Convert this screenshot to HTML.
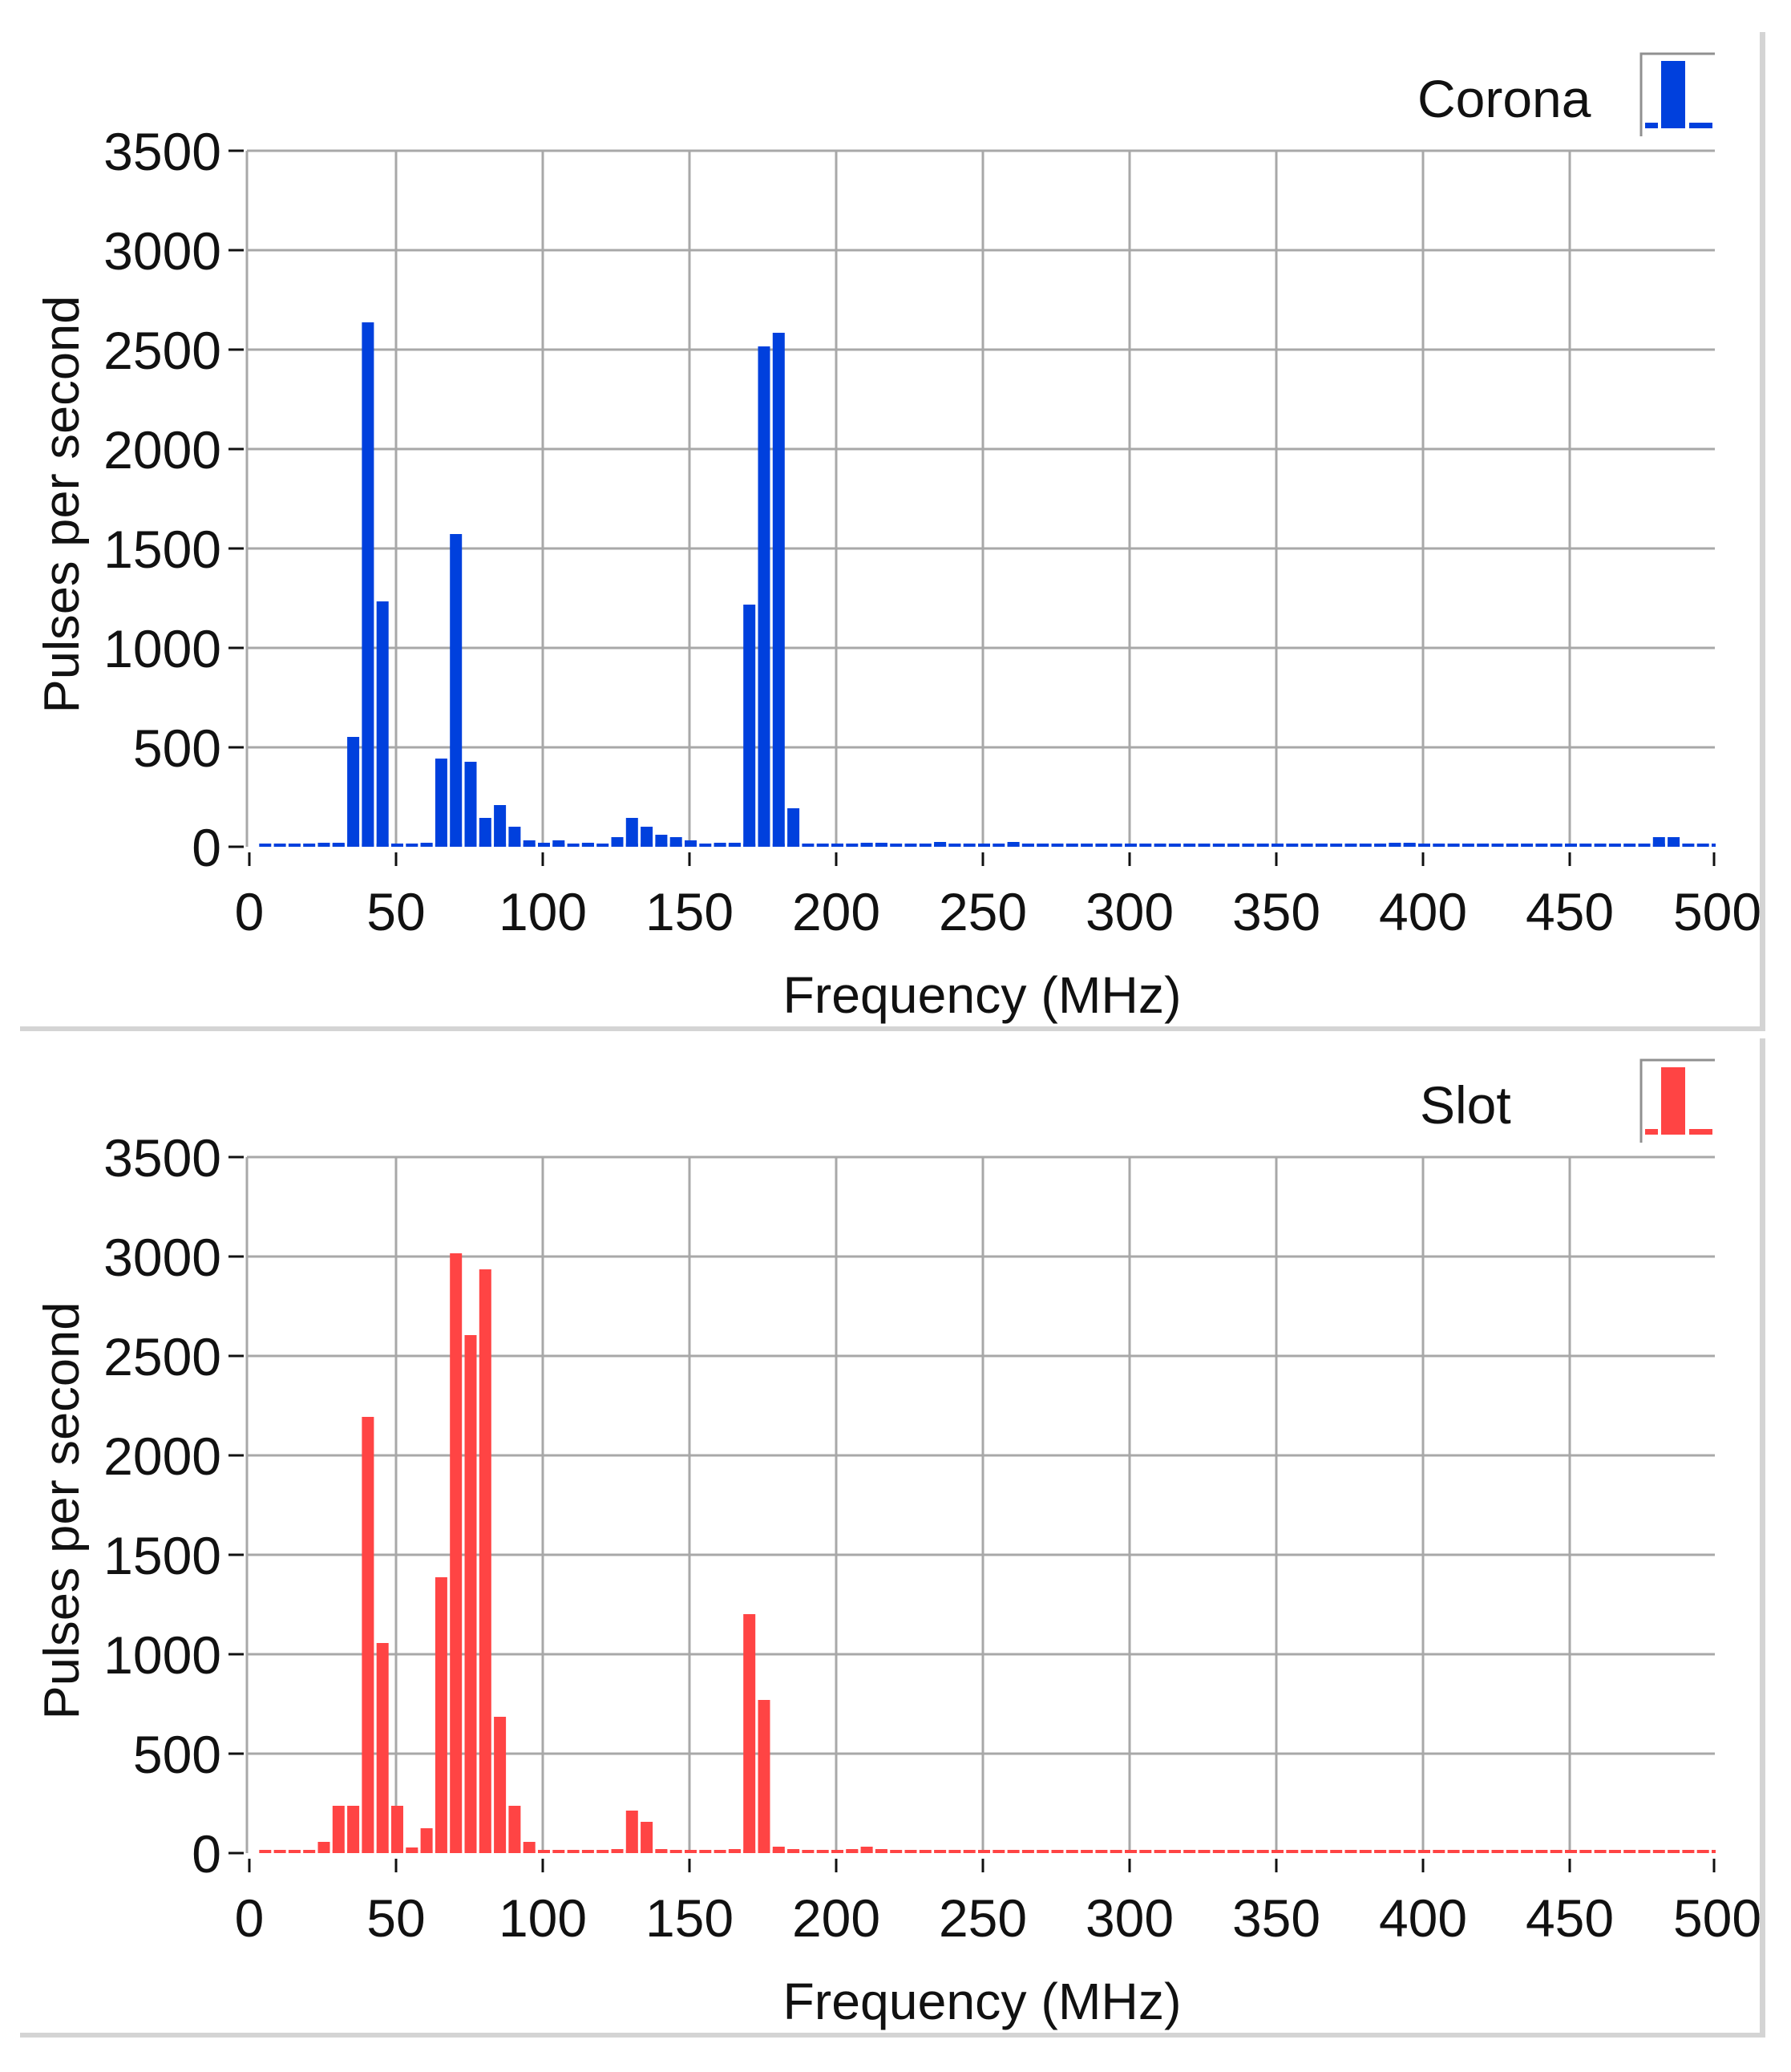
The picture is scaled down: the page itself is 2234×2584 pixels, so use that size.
<!DOCTYPE html>
<html><head><meta charset="utf-8"><style>
html,body{margin:0;padding:0;background:#fff}
svg{display:block}
text{font-family:"Liberation Sans",sans-serif;fill:#111}
</style></head><body>
<svg width="2234" height="2584" viewBox="0 0 2234 2584" xmlns="http://www.w3.org/2000/svg">
<defs>
<g id="frame">
  <rect x="25" y="33" width="2172" height="1248" fill="#fff"/>
  <rect x="2195" y="40" width="7" height="1245" fill="#d4d4d4"/>
  <rect x="25" y="1280" width="2177" height="6" fill="#d4d4d4"/>
  <g stroke="#a8a8a8" stroke-width="3">
    <line x1="308" y1="188" x2="2139" y2="188"/>
    <line x1="308" y1="312" x2="2139" y2="312"/>
    <line x1="308" y1="436" x2="2139" y2="436"/>
    <line x1="308" y1="560" x2="2139" y2="560"/>
    <line x1="308" y1="684" x2="2139" y2="684"/>
    <line x1="308" y1="808" x2="2139" y2="808"/>
    <line x1="308" y1="932" x2="2139" y2="932"/>
    <line x1="308" y1="188" x2="308" y2="1056"/>
    <line x1="494" y1="188" x2="494" y2="1056"/>
    <line x1="677" y1="188" x2="677" y2="1056"/>
    <line x1="860" y1="188" x2="860" y2="1056"/>
    <line x1="1043" y1="188" x2="1043" y2="1056"/>
    <line x1="1226" y1="188" x2="1226" y2="1056"/>
    <line x1="1409" y1="188" x2="1409" y2="1056"/>
    <line x1="1592" y1="188" x2="1592" y2="1056"/>
    <line x1="1775" y1="188" x2="1775" y2="1056"/>
    <line x1="1958" y1="188" x2="1958" y2="1056"/>
  </g>
  <g stroke="#111" stroke-width="3">
    <line x1="285" y1="188" x2="304" y2="188"/>
    <line x1="285" y1="312" x2="304" y2="312"/>
    <line x1="285" y1="436" x2="304" y2="436"/>
    <line x1="285" y1="560" x2="304" y2="560"/>
    <line x1="285" y1="684" x2="304" y2="684"/>
    <line x1="285" y1="808" x2="304" y2="808"/>
    <line x1="285" y1="932" x2="304" y2="932"/>
    <line x1="285" y1="1056" x2="304" y2="1056"/>
    <line x1="311" y1="1063" x2="311" y2="1080"/>
    <line x1="494" y1="1063" x2="494" y2="1080"/>
    <line x1="677" y1="1063" x2="677" y2="1080"/>
    <line x1="860" y1="1063" x2="860" y2="1080"/>
    <line x1="1043" y1="1063" x2="1043" y2="1080"/>
    <line x1="1226" y1="1063" x2="1226" y2="1080"/>
    <line x1="1409" y1="1063" x2="1409" y2="1080"/>
    <line x1="1592" y1="1063" x2="1592" y2="1080"/>
    <line x1="1775" y1="1063" x2="1775" y2="1080"/>
    <line x1="1958" y1="1063" x2="1958" y2="1080"/>
    <line x1="2138" y1="1063" x2="2138" y2="1080"/>
  </g>
  <g font-size="66" text-anchor="end">
    <text x="276" y="212">3500</text>
    <text x="276" y="336">3000</text>
    <text x="276" y="460">2500</text>
    <text x="276" y="584">2000</text>
    <text x="276" y="708">1500</text>
    <text x="276" y="832">1000</text>
    <text x="276" y="956">500</text>
    <text x="276" y="1080">0</text>
  </g>
  <g font-size="66" text-anchor="middle">
    <text x="311" y="1160">0</text>
    <text x="494" y="1160">50</text>
    <text x="677" y="1160">100</text>
    <text x="860" y="1160">150</text>
    <text x="1043" y="1160">200</text>
    <text x="1226" y="1160">250</text>
    <text x="1409" y="1160">300</text>
    <text x="1592" y="1160">350</text>
    <text x="1775" y="1160">400</text>
    <text x="1958" y="1160">450</text>
    <text x="2142" y="1160">500</text>
  </g>
  <text x="1225" y="1263" font-size="64" text-anchor="middle" textLength="497" lengthAdjust="spacingAndGlyphs">Frequency (MHz)</text>
  <text transform="translate(98,629) rotate(-90)" font-size="62" text-anchor="middle" textLength="521" lengthAdjust="spacingAndGlyphs">Pulses per second</text>
  <polyline points="2047,170 2047,67 2139,67" fill="none" stroke="#909090" stroke-width="3"/>
</g>
</defs>

<use href="#frame"/>
<text x="1768" y="146" font-size="66">Corona</text>
<g fill="#0040dd">
  <rect x="2072" y="76" width="30" height="84"/>
  <rect x="2052" y="153" width="16" height="7"/>
  <rect x="2107" y="153" width="29" height="7"/>
  <line x1="323.3" y1="1054" x2="2140" y2="1054" stroke="#0040dd" stroke-width="4" stroke-dasharray="15 3.3"/>
  <rect x="396.5" y="1051" width="15" height="5"/>
  <rect x="414.8" y="1051" width="15" height="5"/>
  <rect x="433.1" y="919" width="15" height="137"/>
  <rect x="451.4" y="402" width="15" height="654"/>
  <rect x="469.7" y="750" width="15" height="306"/>
  <rect x="524.6" y="1051" width="15" height="5"/>
  <rect x="542.9" y="946" width="15" height="110"/>
  <rect x="561.2" y="666" width="15" height="390"/>
  <rect x="579.5" y="950" width="15" height="106"/>
  <rect x="597.8" y="1020" width="15" height="36"/>
  <rect x="616.1" y="1004" width="15" height="52"/>
  <rect x="634.4" y="1031" width="15" height="25"/>
  <rect x="652.7" y="1048" width="15" height="8"/>
  <rect x="671" y="1051" width="15" height="5"/>
  <rect x="689.3" y="1048" width="15" height="8"/>
  <rect x="725.9" y="1051" width="15" height="5"/>
  <rect x="762.5" y="1044" width="15" height="12"/>
  <rect x="780.8" y="1020" width="15" height="36"/>
  <rect x="799.1" y="1031" width="15" height="25"/>
  <rect x="817.4" y="1041" width="15" height="15"/>
  <rect x="835.7" y="1044" width="15" height="12"/>
  <rect x="854" y="1048" width="15" height="8"/>
  <rect x="890.6" y="1051" width="15" height="5"/>
  <rect x="908.9" y="1051" width="15" height="5"/>
  <rect x="927.2" y="754" width="15" height="302"/>
  <rect x="945.5" y="432" width="15" height="624"/>
  <rect x="963.8" y="415" width="15" height="641"/>
  <rect x="982.1" y="1008" width="15" height="48"/>
  <rect x="1073.6" y="1051" width="15" height="5"/>
  <rect x="1091.9" y="1051" width="15" height="5"/>
  <rect x="1165.1" y="1050" width="15" height="6"/>
  <rect x="1183.4" y="1052" width="15" height="4"/>
  <rect x="1256.6" y="1050" width="15" height="6"/>
  <rect x="1274.9" y="1052" width="15" height="4"/>
  <rect x="1586" y="1052" width="15" height="4"/>
  <rect x="1732.4" y="1051" width="15" height="5"/>
  <rect x="1750.7" y="1051" width="15" height="5"/>
  <rect x="2061.8" y="1044" width="15" height="12"/>
  <rect x="2080.1" y="1044" width="15" height="12"/>
</g>

<g transform="translate(0,1255)">
<use href="#frame"/>
<text x="1771" y="146" font-size="66">Slot</text>
<g fill="#ff4444">
  <rect x="2072" y="76" width="30" height="84"/>
  <rect x="2052" y="153" width="16" height="7"/>
  <rect x="2107" y="153" width="29" height="7"/>
  <line x1="323.3" y1="1054" x2="2140" y2="1054" stroke="#ff4444" stroke-width="4" stroke-dasharray="15 3.3"/>
  <rect x="396.5" y="1042" width="15" height="14"/>
  <rect x="414.8" y="997" width="15" height="59"/>
  <rect x="433.1" y="997" width="15" height="59"/>
  <rect x="451.4" y="512" width="15" height="544"/>
  <rect x="469.7" y="794" width="15" height="262"/>
  <rect x="488" y="997" width="15" height="59"/>
  <rect x="506.3" y="1049" width="15" height="7"/>
  <rect x="524.6" y="1025" width="15" height="31"/>
  <rect x="542.9" y="712" width="15" height="344"/>
  <rect x="561.2" y="308" width="15" height="748"/>
  <rect x="579.5" y="410" width="15" height="646"/>
  <rect x="597.8" y="328" width="15" height="728"/>
  <rect x="616.1" y="886" width="15" height="170"/>
  <rect x="634.4" y="997" width="15" height="59"/>
  <rect x="652.7" y="1042" width="15" height="14"/>
  <rect x="762.5" y="1051" width="15" height="5"/>
  <rect x="780.8" y="1003" width="15" height="53"/>
  <rect x="799.1" y="1017" width="15" height="39"/>
  <rect x="817.4" y="1051" width="15" height="5"/>
  <rect x="908.9" y="1051" width="15" height="5"/>
  <rect x="927.2" y="758" width="15" height="298"/>
  <rect x="945.5" y="865" width="15" height="191"/>
  <rect x="963.8" y="1048" width="15" height="8"/>
  <rect x="982.1" y="1051" width="15" height="5"/>
  <rect x="1055.3" y="1051" width="15" height="5"/>
  <rect x="1073.6" y="1048" width="15" height="8"/>
  <rect x="1091.9" y="1051" width="15" height="5"/>
</g>
</g>
</svg>
</body></html>
